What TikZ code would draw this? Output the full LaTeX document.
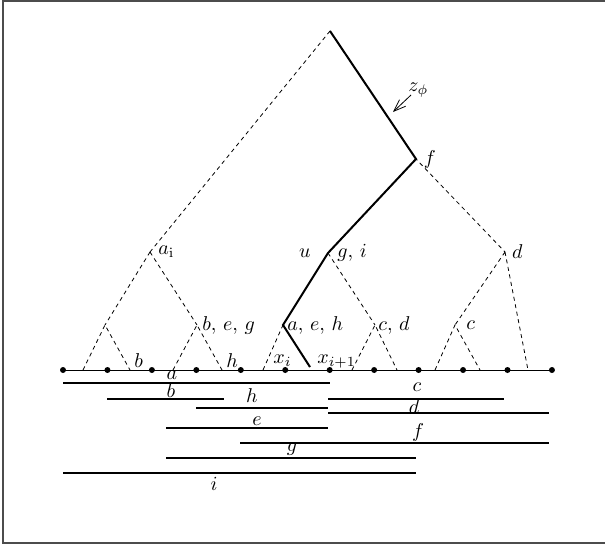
\documentclass[tikz,border=0pt]{standalone}
\usepackage{amsmath}
\usetikzlibrary{arrows.meta,positioning}
\tikzset{
  frame/.style = {black!70, line width=0.6pt},
  tedge/.style = {line width=0.4pt, dash pattern=on 2pt off 1.8pt},
  tpath/.style = {line width=1pt, line join=miter},
  ivl/.style   = {line width=0.8pt},
  leaf/.style  = {circle, fill, inner sep=0pt, minimum size=3pt},
  lbl/.style   = {inner sep=1pt},
  tag/.style   = {inner sep=0pt, anchor=base},
  zarrow/.style= {line width=0.4pt, -{Straight Barb[length=6pt,width=4.5pt]}},
}

\begin{document}
\begin{tikzpicture}[x=0.5pt, y=-0.5pt]
  \useasboundingbox (0,0) rectangle (605,546);
  \draw[frame] (3,1) rectangle (615,543);
  % tree vertices
  \coordinate (root) at (330,31);
  \coordinate (f)    at (416,159);
  \coordinate (ai)   at (150,252);
  \coordinate (u)    at (328,253);
  \coordinate (d)    at (505,252);
  \coordinate (t)    at (105,325);
  \coordinate (beg)  at (197,325);
  \coordinate (aeh)  at (283,325);
  \coordinate (cd)   at (375,325);
  \coordinate (c)    at (455,325);
  % feet on the line
  \foreach \n/\x in {l1/83,l2/130,l3/173,l4/222,l5/263,l7/352,l8/397,l9/435,l10/480,l11/528}
    \coordinate (\n) at (\x,370);
  \coordinate (l6) at (310,367);

  \draw[tedge] (root) -- (ai) (root) -- (f) -- (d) (f) -- (u);
  \draw[tedge] (ai) -- (t) (ai) -- (beg) (u) -- (aeh) (u) -- (cd) (d) -- (c) (d) -- (l11);
  \draw[tedge] (l1) -- (t) -- (l2) (l3) -- (beg) -- (l4) (l5) -- (aeh) -- (l6)
               (l7) -- (cd) -- (l8) (l9) -- (c) -- (l10);
  \draw[tpath] (l6) -- (aeh) -- (u) -- (f) -- (root);

  % the line with its points
  \foreach \k in {0,...,11} \coordinate (p\k) at ({63+44.45*\k},370);
  \draw[line width=0.4pt] (p0) -- (p11);
  \foreach \k in {0,...,11} \node[leaf] (dot\k) at (p\k) {};

  % labels of the tree
  \node[lbl, right=3pt of ai]   (Lai)  {$a_{\mathrm{i}}$};
  \node[lbl, right=1.5pt of beg] (Lbeg) {$b,\, e,\, g$};
  \node[lbl, right=1pt of aeh]  (Laeh) {$a,\, e,\, h$};
  \node[lbl, right=0.5pt of cd] (Lcd)  {$c,\, d$};
  \node[lbl, right=4.5pt of c]  (Lc)   {$c$};
  \node[lbl, right=3.5pt of u]  (Lgi)  {$g,\, i$};
  \node[lbl, left=7.5pt of u]   (Lu)   {$u$};
  \node[lbl, right=2.3pt of d]  (Ld)   {$d$};
  \node[lbl, right=2.7pt of f]  (Lf)   {$f$};

  % z_phi
  \coordinate (zt) at (411,95);
  \coordinate (zh) at (393,112);
  \draw[zarrow] (zt) -- (zh);
  \node[tag, anchor=base west] (Lz) at (408,91) {$z_\phi$};

  % labels on the line
  \node[tag, anchor=base west] (Lb)  at (134,367) {$b$};
  \node[tag, anchor=base west] (Lh)  at (226,367) {$h$};
  \node[tag, anchor=base west] (Lx)  at (273,363) {$x_i$};
  \node[tag, anchor=base west] (Lx1) at (317,363) {$x_{i+1}$};

  % intervals
  \draw[ivl] (63,383)  -- (330,383);
  \draw[ivl] (107,399) -- (224,399);
  \draw[ivl] (196,408) -- (328,408);
  \draw[ivl] (328,399) -- (504,399);
  \draw[ivl] (328,413) -- (549,413);
  \draw[ivl] (166,428) -- (328,428);
  \draw[ivl] (240,443) -- (549,443);
  \draw[ivl] (166,458) -- (416,458);
  \draw[ivl] (63,473)  -- (416,473);
  \node[tag] (Ia) at (172,379) {$a$};
  \node[tag] (Ib) at (171,397) {$b$};
  \node[tag] (Ih) at (252,402) {$h$};
  \node[tag] (Ic) at (417,391) {$c$};
  \node[tag] (Id) at (414,413) {$d$};
  \node[tag] (Ie) at (257,425) {$e$};
  \node[tag] (If) at (418,437) {$f$};
  \node[tag] (Ig) at (292,451) {$g$};
  \node[tag] (Ii) at (214,490) {$i$};
\end{tikzpicture}
\end{document}
